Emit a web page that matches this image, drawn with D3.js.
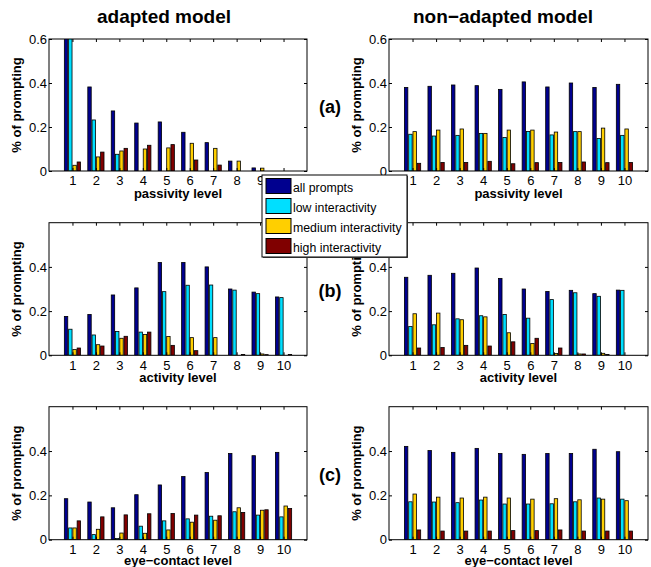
<!DOCTYPE html>
<html>
<head>
<meta charset="utf-8">
<script src="https://cdn.jsdelivr.net/npm/d3@7"></script>
<style>
    body { margin: 0; background: #fff; }
    svg { display: block; font-family: "Liberation Sans", Arial, Helvetica, sans-serif; }
</style>
</head>
<body>
<svg id="chart" width="651" height="567"></svg>
<script>
// Categories and labels
let levels = [1, 2, 3, 4, 5, 6, 7, 8, 9, 10];
let seriesNames = ['all prompts', 'low interactivity', 'medium interactivity', 'high interactivity'];
let seriesColors = ['#00008f', '#00dfff', '#ffcf00', '#800000'];
let columnTitles = ['adapted model', 'non\u2212adapted model'];
let rowLabels = ['(a)', '(b)', '(c)'];
let xLabels = ['passivity level', 'activity level', 'eye\u2212contact level'];
let yLabel = '% of prompting';
let yTicksTop = [0, 0.2, 0.4, 0.6];
let yTicksLower = [0, 0.2, 0.4];

// Series values, one row per series: all, low, medium, high
let adaptedPassivity = [
    [0.65, 0.382, 0.273, 0.218, 0.223, 0.176, 0.129, 0.045, 0.014, 0],
    [0.62, 0.232, 0.076, 0, 0, 0, 0, 0, 0, 0],
    [0.026, 0.064, 0.091, 0.100, 0.105, 0.126, 0.103, 0.045, 0.013, 0],
    [0.041, 0.086, 0.103, 0.117, 0.120, 0.050, 0.027, 0, 0, 0]
];
let nonAdaptedPassivity = [
    [0.380, 0.385, 0.391, 0.388, 0.371, 0.405, 0.382, 0.400, 0.380, 0.394],
    [0.167, 0.159, 0.162, 0.171, 0.152, 0.180, 0.164, 0.179, 0.148, 0.162],
    [0.179, 0.186, 0.191, 0.171, 0.186, 0.186, 0.177, 0.179, 0.195, 0.191],
    [0.035, 0.039, 0.039, 0.044, 0.033, 0.038, 0.039, 0.041, 0.038, 0.039]
];
let adaptedActivity = [
    [0.176, 0.185, 0.273, 0.305, 0.420, 0.420, 0.400, 0.300, 0.286, 0.264],
    [0.118, 0.092, 0.108, 0.105, 0.288, 0.317, 0.318, 0.295, 0.279, 0.261],
    [0.026, 0.048, 0.077, 0.094, 0.085, 0.080, 0.080, 0, 0.006, 0],
    [0.033, 0.042, 0.086, 0.105, 0.045, 0.021, 0, 0.004, 0.003, 0.004]
];
let nonAdaptedActivity = [
    [0.353, 0.362, 0.371, 0.395, 0.348, 0.300, 0.289, 0.294, 0.279, 0.295],
    [0.130, 0.138, 0.165, 0.179, 0.185, 0.168, 0.252, 0.283, 0.267, 0.294],
    [0.188, 0.191, 0.161, 0.174, 0.102, 0.053, 0.008, 0.006, 0.009, 0],
    [0.033, 0.035, 0.045, 0.042, 0.061, 0.077, 0.033, 0.006, 0.004, 0]
];
let adaptedEyeContact = [
    [0.185, 0.170, 0.144, 0.203, 0.247, 0.285, 0.303, 0.389, 0.379, 0.394],
    [0.053, 0.023, 0.005, 0.061, 0.085, 0.094, 0.106, 0.126, 0.111, 0.103],
    [0.053, 0.047, 0.030, 0.029, 0.044, 0.079, 0.088, 0.144, 0.133, 0.152],
    [0.085, 0.103, 0.112, 0.117, 0.118, 0.111, 0.108, 0.123, 0.135, 0.141]
];
let nonAdaptedEyeContact = [
    [0.421, 0.402, 0.394, 0.412, 0.389, 0.385, 0.389, 0.389, 0.408, 0.397],
    [0.171, 0.170, 0.167, 0.179, 0.161, 0.161, 0.162, 0.171, 0.188, 0.183],
    [0.206, 0.192, 0.188, 0.192, 0.188, 0.183, 0.185, 0.180, 0.183, 0.176],
    [0.044, 0.039, 0.039, 0.039, 0.041, 0.041, 0.044, 0.039, 0.039, 0.039]
];

let panelData = [
    [adaptedPassivity, nonAdaptedPassivity],
    [adaptedActivity, nonAdaptedActivity],
    [adaptedEyeContact, nonAdaptedEyeContact]
];

// Layout of the axes boxes
let columns = [{ x0: 49, x1: 307 }, { x0: 389, x1: 648 }];
let rows = [{ y0: 39, y1: 171 }, { y0: 222.7, y1: 355.3 }, { y0: 406.7, y1: 539.7 }];

let svg = d3.select('#chart');
svg.append('rect').attr('width', 651).attr('height', 567).attr('fill', '#fff');

// Grouped bar geometry as in matlab: group width 4/5.5, bars 80% of slot
let groupWidth = seriesNames.length / (seriesNames.length + 1.5);
let slot = groupWidth / seriesNames.length;

let drawPanel = (data, r, c) => {
    let { x0, x1 } = columns[c];
    let { y0, y1 } = rows[r];

    let x = d3.scaleLinear().domain([0, 11]).range([x0, x1]);
    let y = d3.scaleLinear().domain([0, 0.6]).range([y1, y0]);

    let clipId = `clip-${r}-${c}`;
    svg.append('clipPath').attr('id', clipId)
        .append('rect')
        .attr('x', x0).attr('y', y0)
        .attr('width', x1 - x0).attr('height', y1 - y0);

    let g = svg.append('g');

    // Bars
    let bars = [];
    data.forEach((values, s) => {
        values.forEach((v, i) => {
            if (v > 0) bars.push({ s, level: levels[i], v });
        });
    });
    let barW = x(slot * 0.8) - x(0);
    g.append('g')
        .attr('clip-path', `url(#${clipId})`)
        .selectAll('rect')
        .data(bars)
        .enter()
        .append('rect')
        .attr('x', (d) => x(d.level + (d.s - 1.5) * slot) - barW / 2)
        .attr('y', (d) => y(d.v))
        .attr('width', barW)
        .attr('height', (d) => y(0) - y(d.v))
        .attr('fill', (d) => seriesColors[d.s])
        .attr('stroke', '#000')
        .attr('stroke-width', 0.8);

    // Axes with inward ticks on all four sides
    let yTicks = r === 0 ? yTicksTop : yTicksLower;
    let styleAxis = (sel) => {
        sel.select('.domain').remove();
        sel.selectAll('line').attr('stroke', '#000');
        sel.selectAll('text')
            .attr('fill', '#000')
            .attr('font-size', 13)
            .attr('font-family', '"Liberation Sans", Arial, Helvetica, sans-serif');
    };

    g.append('g')
        .attr('transform', `translate(0,${y1})`)
        .call(d3.axisBottom(x).tickValues(levels).tickSize(-3).tickPadding(5))
        .call(styleAxis);
    g.append('g')
        .attr('transform', `translate(0,${y0})`)
        .call(d3.axisTop(x).tickValues(levels).tickSize(-3).tickFormat(''))
        .call(styleAxis);
    g.append('g')
        .attr('transform', `translate(${x0},0)`)
        .call(d3.axisLeft(y).tickValues(yTicks).tickSize(-3).tickPadding(2).tickFormat((d) => String(d)))
        .call(styleAxis);
    g.append('g')
        .attr('transform', `translate(${x1},0)`)
        .call(d3.axisRight(y).tickValues(yTicks).tickSize(-3).tickFormat(''))
        .call(styleAxis);

    // Box
    g.append('rect')
        .attr('x', x0).attr('y', y0)
        .attr('width', x1 - x0).attr('height', y1 - y0)
        .attr('fill', 'none')
        .attr('stroke', '#000')
        .attr('stroke-width', 1);

    // Axis labels
    g.append('text')
        .attr('x', (x0 + x1) / 2)
        .attr('y', Math.min(y1 + 26.5, 565))
        .attr('text-anchor', 'middle')
        .attr('font-size', 13)
        .attr('font-weight', 'bold')
        .text(xLabels[r]);

    g.append('text')
        .attr('transform', `translate(${x0 - 28},${(y0 + y1) / 2}) rotate(-90)`)
        .attr('text-anchor', 'middle')
        .attr('font-size', 13)
        .attr('font-weight', 'bold')
        .text(yLabel);
};

rows.forEach((row, r) => {
    columns.forEach((col, c) => drawPanel(panelData[r][c], r, c));
    svg.append('text')
        .attr('x', 330)
        .attr('y', (row.y0 + row.y1) / 2 + 7.5)
        .attr('text-anchor', 'middle')
        .attr('font-size', 18)
        .attr('font-weight', 'bold')
        .text(rowLabels[r]);
});

// Column titles
[164, 503].forEach((cx, c) => {
    svg.append('text')
        .attr('x', cx)
        .attr('y', 23)
        .attr('text-anchor', 'middle')
        .attr('font-size', 19)
        .attr('font-weight', 'bold')
        .text(columnTitles[c]);
});

// Legend
let legend = svg.append('g').attr('transform', 'translate(262,175)');
legend.append('rect')
    .attr('x', 1).attr('y', 1)
    .attr('width', 145).attr('height', 82)
    .attr('fill', '#555');
legend.append('rect')
    .attr('width', 145).attr('height', 82)
    .attr('fill', '#fff')
    .attr('stroke', '#000')
    .attr('stroke-width', 1);

let items = legend.selectAll('.item')
    .data(seriesNames)
    .enter()
    .append('g')
    .attr('class', 'item')
    .attr('transform', (d, i) => `translate(0,${i * 20})`);
items.append('rect')
    .attr('x', 4).attr('y', 3.5)
    .attr('width', 25).attr('height', 15)
    .attr('fill', (d, i) => seriesColors[i])
    .attr('stroke', '#000')
    .attr('stroke-width', 1);
items.append('text')
    .attr('x', 31)
    .attr('y', 16.5)
    .attr('font-size', 12.3)
    .text((d) => d);
</script>
</body>
</html>
